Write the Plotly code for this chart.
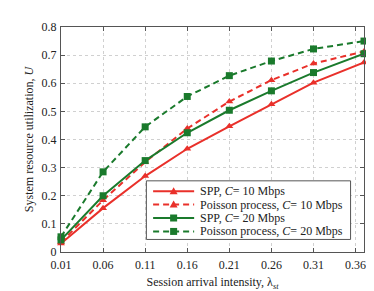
import plotly.graph_objects as go

x_vals = [0.01, 0.06, 0.11, 0.16, 0.21, 0.26, 0.31, 0.37]
spp_10 = [0.030, 0.156, 0.270, 0.367, 0.447, 0.525, 0.602, 0.674]
poisson_10 = [0.035, 0.184, 0.320, 0.439, 0.535, 0.611, 0.670, 0.713]
spp_20 = [0.043, 0.200, 0.325, 0.424, 0.504, 0.573, 0.638, 0.705]
poisson_20 = [0.054, 0.285, 0.445, 0.553, 0.627, 0.679, 0.722, 0.750]

x_ticks = [0.01, 0.06, 0.11, 0.16, 0.21, 0.26, 0.31, 0.36]
x_tick_text = ["0.01", "0.06", "0.11", "0.16", "0.21", "0.26", "0.31", "0.36"]
y_ticks = [0, 0.1, 0.2, 0.3, 0.4, 0.5, 0.6, 0.7, 0.8]
y_tick_text = ["0", "0.1", "0.2", "0.3", "0.4", "0.5", "0.6", "0.7", "0.8"]

names = [
    "SPP, <i>C</i>= 10 Mbps",
    "Poisson process, <i>C</i>= 10 Mbps",
    "SPP, <i>C</i>= 20 Mbps",
    "Poisson process, <i>C</i>= 20 Mbps",
]

RED = "#e9302a"
GREEN = "#1a7a2c"
FONT = "Liberation Serif, Times New Roman, serif"
DASH = "6px,4px"

TRI = "M-4,-3 L4,-3 L0,4 Z"
SQR = "M-3.5,-3.5 L3.5,-3.5 L3.5,3.5 L-3.5,3.5 Z"

series = [
    (spp_10, RED, "solid", "triangle-up", TRI),
    (poisson_10, RED, DASH, "triangle-up", TRI),
    (spp_20, GREEN, "solid", "square", SQR),
    (poisson_20, GREEN, DASH, "square", SQR),
]

fig = go.Figure()
for (vals, color, dash, sym, _), name in zip(series, names):
    fig.add_trace(go.Scatter(
        x=x_vals, y=vals, name=name, mode="lines+markers",
        line=dict(color=color, width=2, dash=dash),
        marker=dict(symbol=sym, size=7, color=color),
        cliponaxis=False, showlegend=False,
    ))

axis_common = dict(
    showline=True, linecolor="#555555", linewidth=1, mirror="ticks",
    ticks="inside", ticklen=4, tickcolor="#555555", tickwidth=1,
    showgrid=True, gridcolor="#d0d0d0", griddash="dot", gridwidth=1,
    zeroline=False,
    tickfont=dict(family=FONT, size=12, color="#222222"),
)

fig.update_xaxes(
    range=[0.01, 0.37], tickvals=x_ticks, ticktext=x_tick_text,
    ticklabelstandoff=2,
    title=dict(text="Session arrival intensity, λ<sub><i>st</i></sub>",
               font=dict(family=FONT, size=12, color="#222222"), standoff=6),
    **axis_common,
)
fig.update_yaxes(
    range=[0, 0.8], tickvals=y_ticks, ticktext=y_tick_text,
    ticklabelstandoff=1,
    title=dict(text="System resource utilization, <i>U</i>",
               font=dict(family=FONT, size=12, color="#222222"), standoff=5),
    **axis_common,
)

# Custom compact legend (box, sample lines, markers, labels)
box_x0, box_x1, box_y0, box_y1 = 0.2818, 0.9557, 0.0558, 0.3163
row_y = [0.2704, 0.2107, 0.1511, 0.0914]
line_x0, line_x1, text_x = 0.304, 0.4394, 0.452
mid_x = (line_x0 + line_x1) / 2

shapes = [dict(type="rect", xref="paper", yref="paper",
               x0=box_x0, x1=box_x1, y0=box_y0, y1=box_y1,
               line=dict(color="#555555", width=1), fillcolor="white",
               layer="above")]
annotations = []
for (vals, color, dash, sym, path), name, ry in zip(series, names, row_y):
    shapes.append(dict(type="line", xref="paper", yref="paper",
                       x0=line_x0, x1=line_x1, y0=ry, y1=ry,
                       line=dict(color=color, width=2, dash=dash),
                       layer="above"))
    shapes.append(dict(type="path", xref="paper", yref="paper",
                       xsizemode="pixel", ysizemode="pixel",
                       xanchor=mid_x, yanchor=ry, path=path,
                       fillcolor=color, line=dict(color=color, width=0),
                       layer="above"))
    annotations.append(dict(x=text_x, y=ry, xref="paper", yref="paper",
                            xanchor="left", yanchor="middle", text=name,
                            showarrow=False,
                            font=dict(family=FONT, size=12, color="#222222")))

fig.update_layout(
    width=374, height=291,
    margin=dict(l=53, r=18, t=14, b=44),
    paper_bgcolor="white", plot_bgcolor="white",
    font=dict(family=FONT, size=12, color="#222222"),
    shapes=shapes, annotations=annotations,
    showlegend=False,
)

fig.write_html("out.html")
